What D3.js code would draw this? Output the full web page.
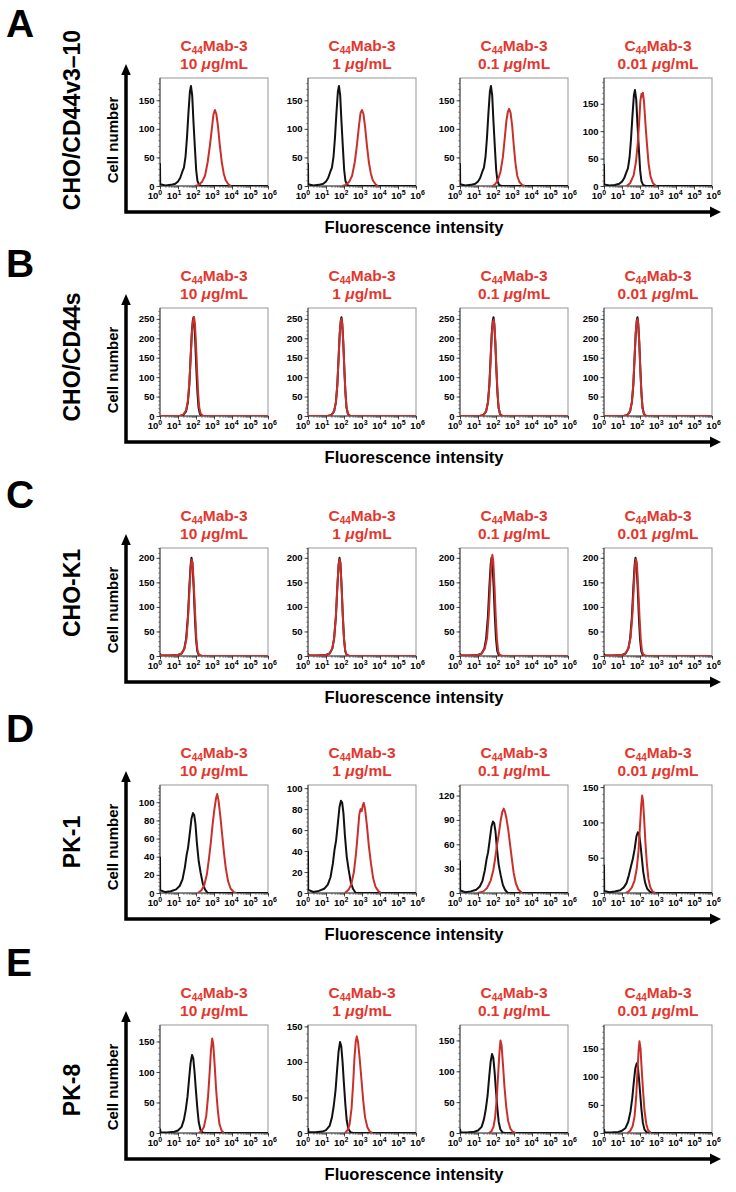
<!DOCTYPE html>
<html><head><meta charset="utf-8">
<script src="https://cdn.jsdelivr.net/npm/d3@7"></script>
<style>
html,body{margin:0;padding:0;background:#fff;}
svg{display:block;font-family:"Liberation Sans",Arial,Helvetica,sans-serif;font-weight:bold;}
</style></head><body>
<svg id="chart" width="736" height="1192"></svg>
<script>
// ---------- data ----------
const rowLetters = ["A", "B", "C", "D", "E"];
const cellLines = ["CHO/CD44v3\u201310", "CHO/CD44s", "CHO-K1", "PK-1", "PK-8"];
const concentrations = ["10", "1", "0.1", "0.01"];
const antibody = ["C", "44", "Mab-3"];
const xExponents = [0, 1, 2, 3, 4, 5, 6];

// y tick labels per row / panel
const yTicksA = [[0,50,100,150],[0,50,100,150],[0,50,100,150],[0,50,100,150]];
const yTicksB = [[0,50,100,150,200,250],[0,50,100,150,200,250],[0,50,100,150,200,250],[0,50,100,150,200,250]];
const yTicksC = [[0,50,100,150,200],[0,50,100,150,200],[0,50,100,150,200],[0,50,100,150,200]];
const yTicksD = [[0,20,40,60,80,100],[0,20,40,60,80,100],[0,30,60,90,120],[0,50,100,150]];
const yTicksE = [[0,50,100,150],[0,50,100,150],[0,50,100,150],[0,50,100,150]];
// y axis maxima (counts)
const yMaxA = [189, 189, 189, 197];
const yMaxB = [278, 278, 278, 278];
const yMaxC = [220, 220, 220, 220];
const yMaxD = [119, 103, 133, 153];
const yMaxE = [177, 152, 175, 192];

// histograms: [log10 fluorescence, cell count]
const blackA = [[0,40],[0.01,3],[0.3,1],[0.6,2],[0.85,4],[1.0,8],[1.12,14],[1.24,25],[1.33,32],[1.42,52],[1.5,85],[1.58,128],[1.66,165],[1.72,175],[1.79,158],[1.86,112],[1.94,66],[2.01,28],[2.08,9],[2.17,2],[2.3,0],[6,0]];
const redA1 = [[1.95,0],[2.15,2],[2.35,8],[2.5,18],[2.65,42],[2.77,70],[2.88,100],[2.97,125],[3.05,133],[3.13,126],[3.22,105],[3.32,72],[3.43,42],[3.54,22],[3.65,10],[3.8,3],[3.95,0]];
const redA2 = [[1.9,0],[2.1,2],[2.3,8],[2.45,18],[2.6,42],[2.72,72],[2.83,105],[2.92,128],[3.0,133],[3.08,126],[3.17,104],[3.27,72],[3.38,42],[3.49,22],[3.6,10],[3.75,3],[3.9,0]];
const redA3 = [[1.8,0],[1.95,3],[2.1,10],[2.25,25],[2.38,50],[2.49,85],[2.58,115],[2.66,130],[2.73,135],[2.81,128],[2.9,105],[2.99,70],[3.08,40],[3.18,18],[3.3,7],[3.45,2],[3.6,0]];
const redA4 = [[1.25,0],[1.45,5],[1.65,20],[1.78,45],[1.88,80],[1.96,120],[2.02,155],[2.08,168],[2.12,163],[2.16,170],[2.22,155],[2.3,115],[2.39,75],[2.48,40],[2.58,18],[2.72,5],[2.9,0]];

const blackB = [[0,2],[0.02,0],[1.1,0],[1.3,3],[1.45,12],[1.55,35],[1.63,80],[1.7,150],[1.76,210],[1.82,245],[1.86,254],[1.9,240],[1.96,190],[2.02,120],[2.08,60],[2.14,22],[2.22,5],[2.35,0],[6,0]];
const redB1 = [[0,0],[1.1,0],[1.3,4],[1.45,15],[1.55,40],[1.64,92],[1.72,165],[1.79,225],[1.85,250],[1.89,255],[1.94,238],[2.0,185],[2.06,118],[2.12,58],[2.18,22],[2.26,6],[2.4,0],[6,0]];
const redB2 = [[0,0],[1.1,0],[1.3,3],[1.45,12],[1.55,35],[1.63,80],[1.7,150],[1.76,210],[1.82,243],[1.86,250],[1.9,238],[1.96,188],[2.02,118],[2.08,58],[2.14,21],[2.22,5],[2.35,0],[6,0]];
const redB3 = [[0,0],[1.1,0],[1.3,3],[1.45,12],[1.56,36],[1.64,82],[1.71,152],[1.77,212],[1.83,242],[1.87,248],[1.91,236],[1.97,186],[2.03,116],[2.09,56],[2.15,20],[2.23,5],[2.36,0],[6,0]];
const redB4 = [[0,0],[1.1,0],[1.3,3],[1.45,13],[1.55,37],[1.63,84],[1.7,154],[1.76,214],[1.82,244],[1.86,249],[1.9,236],[1.96,186],[2.02,116],[2.08,56],[2.14,20],[2.22,5],[2.35,0],[6,0]];

const blackC = [[0,5],[0.03,1],[0.5,1],[1.0,2],[1.2,5],[1.35,15],[1.45,35],[1.55,80],[1.63,140],[1.7,185],[1.75,200],[1.8,190],[1.87,140],[1.93,85],[2.0,35],[2.07,10],[2.15,2],[2.3,0],[6,0]];
const redC1 = [[0,3],[0.03,1],[0.5,1],[1.0,2],[1.2,5],[1.35,14],[1.47,35],[1.57,85],[1.65,145],[1.72,188],[1.77,196],[1.82,185],[1.89,135],[1.96,80],[2.02,35],[2.09,10],[2.18,2],[2.35,0],[6,0]];
const redC2 = [[0,3],[0.03,1],[0.5,1],[1.0,2],[1.2,5],[1.35,15],[1.45,36],[1.55,82],[1.63,142],[1.7,186],[1.75,197],[1.8,187],[1.87,138],[1.93,84],[2.0,35],[2.07,10],[2.15,2],[2.3,0],[6,0]];
const redC3 = [[0,3],[0.03,1],[0.5,1],[1.0,2],[1.2,5],[1.38,15],[1.5,36],[1.6,85],[1.68,150],[1.75,195],[1.8,206],[1.85,192],[1.92,140],[1.98,85],[2.05,35],[2.12,10],[2.2,2],[2.35,0],[6,0]];
const redC4 = [[0,2],[0.03,1],[0.5,1],[1.0,2],[1.2,6],[1.36,16],[1.48,38],[1.58,85],[1.66,145],[1.73,188],[1.78,197],[1.83,187],[1.9,138],[1.97,82],[2.04,34],[2.11,10],[2.2,2],[2.35,0],[6,0]];

const blackD = [[0,40],[0.01,3],[0.3,1],[0.6,2],[0.9,4],[1.1,8],[1.25,15],[1.38,28],[1.48,42],[1.56,50],[1.65,65],[1.75,82],[1.83,88],[1.9,86],[1.97,76],[2.05,55],[2.15,35],[2.26,22],[2.38,10],[2.5,4],[2.65,0],[6,0]];
const blackD4 = [[0,40],[0.01,3],[0.3,1],[0.6,2],[0.9,4],[1.1,8],[1.25,14],[1.38,25],[1.5,38],[1.6,48],[1.7,62],[1.8,80],[1.88,86],[1.95,83],[2.02,70],[2.1,50],[2.18,30],[2.28,15],[2.4,6],[2.55,2],[2.7,0],[6,0]];
const redD1 = [[2.1,0],[2.3,3],[2.45,8],[2.6,20],[2.72,38],[2.82,55],[2.92,75],[3.02,92],[3.12,105],[3.18,109],[3.25,102],[3.35,85],[3.45,65],[3.55,45],[3.65,28],[3.78,13],[3.92,5],[4.1,1],[4.25,0]];
const redD2 = [[2.05,0],[2.25,3],[2.4,8],[2.55,20],[2.67,38],[2.77,58],[2.85,75],[2.92,80],[2.98,78],[3.05,84],[3.1,86],[3.17,80],[3.27,65],[3.38,45],[3.5,28],[3.62,14],[3.75,6],[3.9,2],[4.05,0]];
const redD3 = [[1.0,0],[1.3,2],[1.5,6],[1.7,15],[1.85,28],[1.95,42],[2.05,58],[2.15,72],[2.25,88],[2.35,100],[2.43,104],[2.5,100],[2.58,92],[2.68,78],[2.78,60],[2.88,42],[2.98,25],[3.1,12],[3.25,4],[3.45,0]];
const redD4 = [[1.2,0],[1.4,3],[1.55,8],[1.7,18],[1.82,35],[1.92,60],[2.0,95],[2.07,125],[2.12,138],[2.17,130],[2.23,105],[2.3,72],[2.38,42],[2.47,20],[2.57,8],[2.7,2],[2.85,0]];

const blackE = [[0,7],[0.03,1],[0.4,1],[0.8,2],[1.0,4],[1.2,10],[1.33,22],[1.43,38],[1.53,60],[1.62,90],[1.7,115],[1.78,128],[1.85,122],[1.92,100],[1.99,72],[2.07,42],[2.15,18],[2.24,6],[2.36,1],[2.5,0],[6,0]];
const blackE4 = [[0,7],[0.03,1],[0.4,1],[0.8,2],[1.0,4],[1.2,9],[1.35,20],[1.47,38],[1.57,62],[1.66,92],[1.74,115],[1.82,124],[1.88,118],[1.94,98],[2.01,70],[2.08,42],[2.16,18],[2.25,6],[2.38,1],[2.5,0],[6,0]];
const redE1 = [[2.15,0],[2.3,3],[2.44,10],[2.57,28],[2.67,60],[2.76,100],[2.83,135],[2.9,155],[2.96,145],[3.04,110],[3.12,70],[3.21,38],[3.3,15],[3.42,4],[3.55,0]];
const redE2 = [[2.05,0],[2.2,4],[2.31,12],[2.42,35],[2.51,70],[2.58,105],[2.65,128],[2.71,136],[2.78,128],[2.87,105],[2.97,75],[3.07,45],[3.17,22],[3.3,8],[3.43,2],[3.58,0]];
const redE3 = [[1.6,0],[1.75,3],[1.86,10],[1.95,25],[2.04,55],[2.12,95],[2.19,130],[2.25,150],[2.31,142],[2.39,110],[2.47,75],[2.57,42],[2.67,20],[2.8,7],[2.93,2],[3.1,0]];
const redE4 = [[1.3,0],[1.46,4],[1.59,12],[1.7,30],[1.79,65],[1.86,110],[1.92,145],[1.97,163],[2.03,150],[2.09,115],[2.17,75],[2.25,40],[2.35,16],[2.45,5],[2.6,0]];

// assemble per row
const rows = [
  {ticks: yTicksA, ymax: yMaxA, black: [blackA, blackA, blackA, blackA], red: [redA1, redA2, redA3, redA4]},
  {ticks: yTicksB, ymax: yMaxB, black: [blackB, blackB, blackB, blackB], red: [redB1, redB2, redB3, redB4]},
  {ticks: yTicksC, ymax: yMaxC, black: [blackC, blackC, blackC, blackC], red: [redC1, redC2, redC3, redC4]},
  {ticks: yTicksD, ymax: yMaxD, black: [blackD, blackD, blackD, blackD4], red: [redD1, redD2, redD3, redD4]},
  {ticks: yTicksE, ymax: yMaxE, black: [blackE, blackE, blackE, blackE4], red: [redE1, redE2, redE3, redE4]}
];

// ---------- layout ----------
const W = 108, H = 108;
const rowTops = [78, 308, 548, 785, 1025];
const panelLefts = [160, 308, 460, 604];
const rowLabelY = [120, 357, 593, 842, 1090];
const letterBase = [37, 277, 508, 742, 976];
const AX_X = 126, AX_END = 721;
const RED_T = "#e5362d", RED_L = "#c9302b";

const svg = d3.select("#chart");
const defs = svg.append("defs");

rows.forEach((row, r) => {
  const top = rowTops[r], bottom = top + H, axisY = bottom + 26, tipY = top - 14;

  svg.append("text").attr("x", 6).attr("y", letterBase[r])
    .attr("font-size", 39).attr("fill", "#000").text(rowLetters[r]);

  svg.append("text").attr("transform", `translate(80,${rowLabelY[r]}) rotate(-90)`)
    .attr("text-anchor", "middle").attr("font-size", 23).attr("fill", "#000").text(cellLines[r]);

  svg.append("text").attr("transform", `translate(117.5,${top + 62}) rotate(-90)`)
    .attr("text-anchor", "middle").attr("font-size", 15).attr("fill", "#000").text("Cell number");

  // big axes with arrows
  svg.append("path").attr("d", `M${AX_X},${tipY + 8}V${axisY}H${AX_END - 9}`)
    .attr("fill", "none").attr("stroke", "#000").attr("stroke-width", 3.5).attr("stroke-linejoin", "miter");
  svg.append("path").attr("d", `M${AX_X},${tipY}L${AX_X - 4.8},${tipY + 11}L${AX_X + 4.8},${tipY + 11}Z`).attr("fill", "#000");
  svg.append("path").attr("d", `M${AX_END},${axisY}L${AX_END - 11},${axisY - 5.5}L${AX_END - 11},${axisY + 5.5}Z`).attr("fill", "#000");
  svg.append("text").attr("x", 414).attr("y", axisY + 21).attr("text-anchor", "middle")
    .attr("font-size", 16.5).attr("fill", "#000").text("Fluorescence intensity");

  concentrations.forEach((conc, p) => {
    const x0 = panelLefts[p];
    const xs = d3.scaleLog().domain([1, 1e6]).range([x0, x0 + W]);
    const ys = d3.scaleLinear().domain([0, row.ymax[p]]).range([bottom, top]);
    const g = svg.append("g");

    // frame
    g.append("rect").attr("x", x0).attr("y", top).attr("width", W).attr("height", H)
      .attr("fill", "none").attr("stroke", "#8c8c8c").attr("stroke-width", 0.9);

    // y minor ticks
    const ticks = row.ticks[p];
    const step = ticks[1] - ticks[0];
    const minor = d3.range(0, row.ymax[p] + 0.001, step / 5);
    g.append("g").attr("transform", `translate(${x0},0)`)
      .call(d3.axisLeft(ys).tickValues(minor).tickSize(1.8).tickFormat(""))
      .call(a => a.select(".domain").remove())
      .selectAll("line").attr("stroke", "#444").attr("stroke-width", 0.6);
    // y major ticks
    const ya = g.append("g").attr("transform", `translate(${x0},0)`)
      .call(d3.axisLeft(ys).tickValues(ticks).tickSize(3.5).tickPadding(2))
      .call(a => a.select(".domain").remove());
    ya.selectAll("line").attr("stroke", "#222").attr("stroke-width", 0.8);
    ya.selectAll("text").attr("font-size", 9.5).attr("font-weight", "bold")
      .attr("font-family", '"Liberation Sans",Arial,sans-serif').attr("fill", "#000");

    // x minor + major ticks
    g.append("g").attr("transform", `translate(0,${bottom})`)
      .call(d3.axisBottom(xs).tickValues(xs.ticks()).tickSize(2).tickFormat(""))
      .call(a => a.select(".domain").remove())
      .selectAll("line").attr("stroke", "#444").attr("stroke-width", 0.6);
    g.append("g").attr("transform", `translate(0,${bottom})`)
      .call(d3.axisBottom(xs).tickValues(xExponents.map(e => Math.pow(10, e))).tickSize(3.5).tickFormat(""))
      .call(a => a.select(".domain").remove())
      .selectAll("line").attr("stroke", "#222").attr("stroke-width", 0.8);

    // axis lines left/bottom
    g.append("path").attr("d", `M${x0},${top}V${bottom}H${x0 + W}`)
      .attr("fill", "none").attr("stroke", "#333").attr("stroke-width", 0.9);

    // x tick labels
    xExponents.forEach(e => {
      const t = g.append("text").attr("x", xs(Math.pow(10, e)) - 5 + 1.1 * e).attr("y", bottom + 13)
        .attr("text-anchor", "middle").attr("font-size", 9.5).attr("fill", "#000");
      t.append("tspan").text("10");
      t.append("tspan").attr("font-size", 7).attr("dy", -4).text(String(e));
    });

    // clip
    const cid = `clip-${r}-${p}`;
    defs.append("clipPath").attr("id", cid).append("rect")
      .attr("x", x0).attr("y", top - 1).attr("width", W).attr("height", H + 1);

    const line = d3.line().x(d => xs(Math.pow(10, d[0]))).y(d => ys(d[1])).curve(d3.curveLinear);
    const cg = g.append("g").attr("clip-path", `url(#${cid})`);
    cg.append("path").datum(row.black[p]).attr("d", line)
      .attr("fill", "none").attr("stroke", "#111").attr("stroke-width", 2).attr("stroke-linejoin", "round");
    cg.append("path").datum(row.red[p]).attr("d", line)
      .attr("fill", "none").attr("stroke", RED_L).attr("stroke-width", 2).attr("stroke-linejoin", "round");

    // titles
    const cx = x0 + W / 2;
    const t1 = svg.append("text").attr("x", cx).attr("y", top - 27).attr("text-anchor", "middle")
      .attr("font-size", 15.5).attr("fill", RED_T);
    t1.append("tspan").text(antibody[0]);
    t1.append("tspan").attr("font-size", 10).attr("dy", 3).text(antibody[1]);
    t1.append("tspan").attr("dy", -3).text(antibody[2]);
    const t2 = svg.append("text").attr("x", cx).attr("y", top - 9).attr("text-anchor", "middle")
      .attr("font-size", 15.5).attr("fill", RED_T);
    t2.append("tspan").text(conc + " ");
    t2.append("tspan").attr("font-style", "italic").text("\u03bc");
    t2.append("tspan").text("g/mL");
  });
});
</script>
</body></html>
